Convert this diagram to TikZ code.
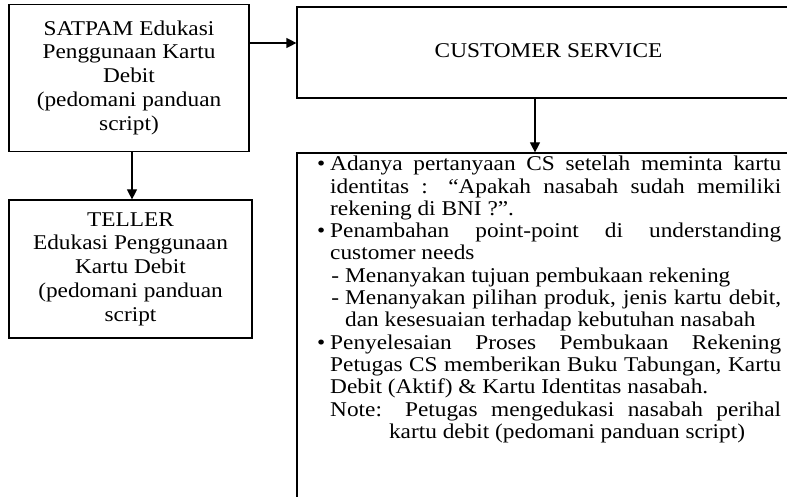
\documentclass[tikz,border=0pt]{standalone}
\usepackage{fontspec}
\usepackage{graphicx}
\setmainfont{Liberation Serif}
\usetikzlibrary{arrows.meta}
\newcommand{\sx}[1]{\scalebox{1.11}[1]{#1}}
\newcommand{\ctext}[1]{\sx{\fontsize{21}{23.8}\selectfont\begin{tabular}{@{}c@{}}#1\end{tabular}}}
\newcommand{\bul}{\noindent\llap{\textbullet\hspace{4.5pt}}}
\newcommand{\dsh}{\hangindent=13.5pt\hangafter=0\noindent\llap{-\hspace{5.4pt}}}
\begin{document}
\begin{tikzpicture}[x=1pt,y=-1pt,
  box/.style={draw, line width=1.2pt, inner sep=0pt},
  arr/.style={line width=1.2pt, -{Triangle[length=10pt,width=10pt]}}]
\useasboundingbox (0,0) rectangle (787,497);
\clip (0,0) rectangle (787,497);
\node[box, minimum width=240pt, minimum height=147pt] (satpam) at (129,78)
  {\ctext{SATPAM Edukasi\\Penggunaan Kartu\\Debit\\(pedomani panduan\\script)}};
\node[box, minimum width=243pt, minimum height=138pt] (teller) at (130.5,269)
  {\ctext{TELLER\\Edukasi Penggunaan\\Kartu Debit\\(pedomani panduan\\script}};
\node[box, minimum width=503pt, minimum height=91pt] (cs) at (548.5,52.5)
  {\ctext{CUSTOMER SERVICE}};
\node[box, minimum width=503pt, minimum height=357pt] (det) at (548.5,331.5) {};
\node[anchor=north west, inner sep=0pt] (dettext) at (330,156) {\sx{\parbox[t]{406.3pt}{%
\fontsize{21}{22.3}\selectfont\hbadness=10000\parindent=0pt
\bul Adanya pertanyaan CS setelah meminta kartu\linebreak identitas : “Apakah nasabah sudah memiliki\linebreak rekening di BNI ?”.\par
\bul Penambahan point-point di understanding\linebreak customer needs\par
\dsh Menanyakan tujuan pembukaan rekening\par
\dsh Menanyakan pilihan produk, jenis kartu debit,\linebreak dan kesesuaian terhadap kebutuhan nasabah\par
\bul Penyelesaian Proses Pembukaan Rekening\linebreak Petugas CS memberikan Buku Tabungan, Kartu\linebreak Debit (Aktif) \& Kartu Identitas nasabah.\par
\hangindent=53pt\hangafter=1\noindent\makebox[67.5pt][l]{Note:}Petugas mengedukasi nasabah perihal\linebreak kartu debit (pedomani panduan script)\par}}};
\coordinate (h1) at (0,43);
\coordinate (v1) at (132,0);
\coordinate (v2) at (535,0);
\draw[arr] (satpam.east |- h1) -- (cs.west |- h1);
\draw[arr] (satpam.south -| v1) -- (teller.north -| v1);
\draw[arr] (cs.south -| v2) -- (det.north -| v2);
\end{tikzpicture}
\end{document}
